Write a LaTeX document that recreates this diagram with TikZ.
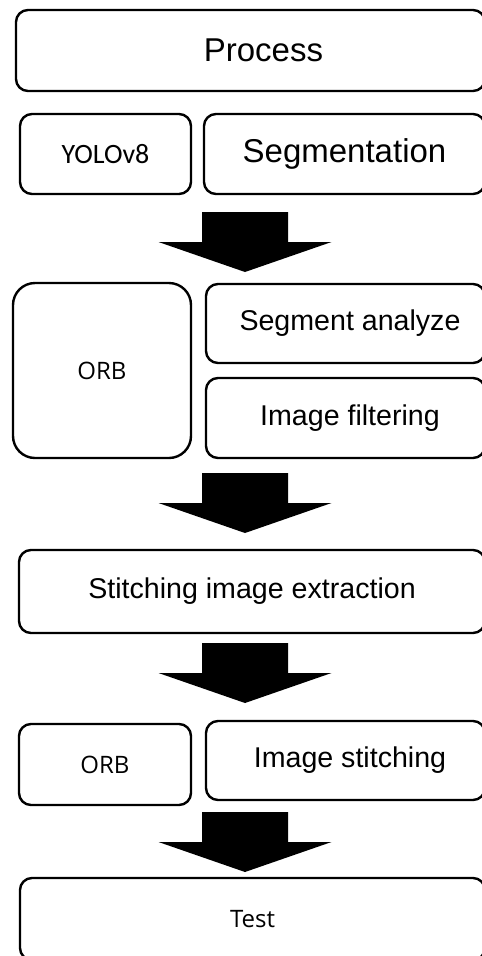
\documentclass[tikz,border=0pt]{standalone}
\usepackage{fontspec}
\setmainfont{Liberation Sans}
\newfontfamily\orbfont{Open Sans}
\newfontfamily\calfont{Carlito}
\begin{document}
\begin{tikzpicture}[x=1pt,y=-1pt,
  box/.style={draw=black, line width=2.4pt, rounded corners=12pt, inner sep=0pt, align=center},
  big/.style={font=\fontsize{33}{40}\selectfont},
  mid/.style={font=\fontsize{28.6}{34}\selectfont},
  orbtxt/.style={font=\orbfont\fontsize{24}{29}\selectfont},
  yolotxt/.style={font=\calfont\fontsize{28}{34}\selectfont},
  blockarrow/.pic={\fill[black] (-43,0) -- (43,0) -- (43,30) -- (86.5,30) -- (0,60) -- (-86.5,30) -- (-43,30) -- cycle;}
]
\useasboundingbox (0,0) rectangle (482,956);
\clip (0,0) rectangle (482,956);
\fill[white] (0,0) rectangle (482,956);

\node[box, big, minimum width=469pt, minimum height=81pt] (process) at (250.5,50.5) {\hspace{26pt}Process};
\node[box, yolotxt, minimum width=171pt, minimum height=80pt] (yolo) at (105.5,154) {YOLOv8};
\node[box, big, minimum width=281pt, minimum height=80pt] (seg) at (344.5,154) {Segmentation};

\pic at (245,212) {blockarrow};

\node[box, orbtxt, rounded corners=22pt, minimum width=178pt, minimum height=175pt] (orbA) at (102,370.5) {ORB};
\node[box, mid, minimum width=279pt, minimum height=79pt] (segan) at (345.5,323.5) {\hspace{9pt}Segment analyze};
\node[box, mid, minimum width=279pt, minimum height=80pt] (filt) at (345.5,418) {\hspace{9pt}Image filtering};

\pic at (245,473) {blockarrow};

\node[box, mid, minimum width=466pt, minimum height=83pt] (stitchx) at (252,591.5) {Stitching image extraction};

\pic at (245,643) {blockarrow};

\node[box, orbtxt, minimum width=172pt, minimum height=81pt] (orbB) at (105,764.5) {ORB};
\node[box, mid, minimum width=279pt, minimum height=79pt] (imst) at (345.5,760.5) {\hspace{9pt}Image stitching};

\pic at (245,812) {blockarrow};

\node[box, orbtxt, minimum width=465pt, minimum height=82pt] (test) at (252.5,919) {Test};
\end{tikzpicture}
\end{document}
